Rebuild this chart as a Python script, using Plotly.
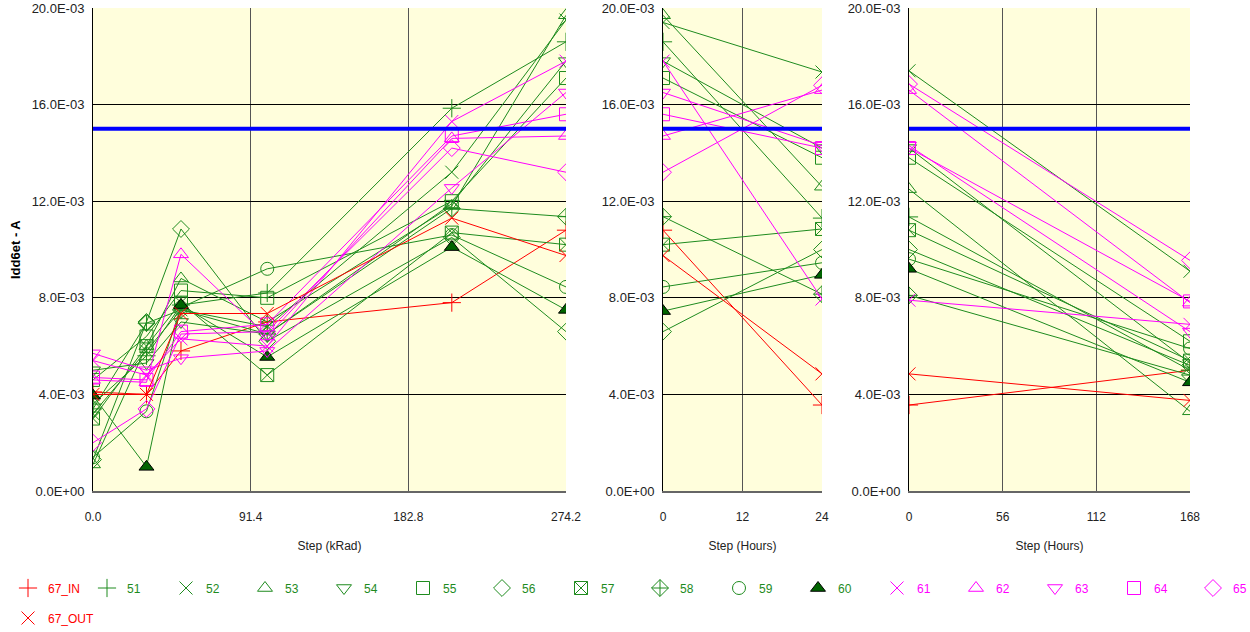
import plotly.graph_objects as go

# ---------------- data ----------------
SERIES = ["67_IN", "51", "52", "53", "54", "55", "56", "57", "58", "59", "60",
          "61", "62", "63", "64", "65", "67_OUT"]
COLORS = {"r": "#FF0000", "g": "#1E8B1E", "m": "#FF00FF"}
SERIES_COLOR = ["r", "g", "g", "g", "g", "g", "g", "g", "g", "g", "g",
                "m", "m", "m", "m", "m", "r"]
SYMBOLS = ["cross-thin-open", "cross-thin-open", "x-thin-open", "triangle-up-open",
           "triangle-down-open", "square-open", "diamond-open", "square-x-open",
           "diamond-cross-open", "circle-open", "triangle-up",
           "x-thin-open", "triangle-up-open", "triangle-down-open", "square-open",
           "diamond-open", "x-thin-open"]

DOSE_STEPS = [0, 31, 51, 101, 208, 274.2]          # kRad
ANNEAL1_STEPS = [0, 24]                            # hours
ANNEAL2_STEPS = [0, 168]                           # hours

# Idd6et in mA, one row per series (same order as SERIES)
DOSE_MA = [
    [4.1, 4.0, 5.8, 7.0, 7.8, 10.8],      # 67_IN
    [3.6, 5.6, 7.7, 8.2, 15.85, 18.6],    # 51
    [3.2, 5.8, 7.5, 6.8, 13.2, 19.5],     # 52
    [1.1, 6.0, 8.8, 7.0, 11.8, 19.7],     # 53
    [5.0, 5.3, 7.0, 6.5, 11.9, 17.8],     # 54
    [4.6, 6.4, 8.3, 8.0, 12.0, 17.1],     # 55
    [1.3, 7.0, 10.85, 6.2, 10.5, 6.6],    # 56
    [3.0, 6.0, 7.8, 4.8, 10.7, 10.2],     # 57
    [3.4, 6.95, 7.5, 6.5, 11.7, 11.36],   # 58
    [1.4, 3.3, 7.6, 9.2, 10.6, 8.45],     # 59
    [3.95, 1.0, 7.7, 5.55, 10.1, 7.5],    # 60
    [5.4, 4.8, 6.3, 6.0, 15.3, 17.8],     # 61
    [4.6, 4.5, 9.8, 6.4, 14.6, 14.7],     # 62
    [5.7, 5.0, 5.5, 5.8, 12.55, 16.5],    # 63
    [4.7, 4.6, 6.6, 6.9, 14.7, 15.6],     # 64
    [2.0, 3.4, 6.5, 6.6, 14.2, 13.2],     # 65
    [4.0, 4.0, 7.35, 7.35, 11.3, 9.75],   # 67_OUT
]
ANNEAL1_MA = [
    [10.8, 3.56], [18.6, 11.3], [19.4, 17.35], [19.7, 12.6], [17.8, 14.2],
    [17.1, 13.8], [6.6, 10.0], [10.2, 10.85], [11.36, 8.15], [8.45, 9.45],
    [7.45, 8.95], [17.8, 7.95], [14.7, 16.6], [16.5, 14.3], [15.6, 14.2],
    [13.2, 16.8], [9.75, 4.85],
]
ANNEAL2_MA = [
    [3.56, 5.0], [11.35, 5.0], [17.4, 9.1], [12.5, 3.3], [14.2, 5.3],
    [13.8, 6.2], [10.0, 5.2], [10.8, 5.4], [8.1, 4.8], [9.6, 5.9],
    [9.2, 4.5], [7.9, 6.9], [16.6, 7.8], [14.3, 6.6], [14.2, 7.85],
    [16.85, 9.55], [4.85, 3.75],
]
LIMIT_MA = 15.0

Y_TICKS_MA = [0, 4, 8, 12, 16, 20]
Y_TICKTEXT = ["0.0E+00", "4.0E-03", "8.0E-03", "12.0E-03", "16.0E-03", "20.0E-03"]
X1_TICKS = [0, 91.4, 182.8, 274.2]
X1_TICKTEXT = ["0.0", "91.4", "182.8", "274.2"]
X2_TICKS = [0, 12, 24]
X3_TICKS = [0, 56, 112, 168]

# ---------------- figure ----------------
FONT = "Liberation Sans, Arial, sans-serif"
fig = go.Figure()

panels = [("x", "y", DOSE_STEPS, DOSE_MA),
          ("x2", "y2", ANNEAL1_STEPS, ANNEAL1_MA),
          ("x3", "y3", ANNEAL2_STEPS, ANNEAL2_MA)]

def marker_for(i):
    c = COLORS[SERIES_COLOR[i]]
    filled = SYMBOLS[i] == "triangle-up"
    return dict(symbol=SYMBOLS[i], size=13,
                color="#006400" if filled else c,
                line=dict(color="black" if filled else c, width=1))

for xa, ya, xs, table in panels:
    for i, name in enumerate(SERIES):
        c = COLORS[SERIES_COLOR[i]]
        fig.add_trace(go.Scatter(
            x=xs, y=[v * 1e-3 for v in table[i]], xaxis=xa, yaxis=ya,
            mode="lines+markers", name=name, legendgroup=name, showlegend=False,
            line=dict(color=c, width=1), marker=marker_for(i), hoverinfo="skip"))

PLOT_L, PLOT_R, PLOT_T, PLOT_B = 93, 1190, 8, 491   # target screen pixels
L, T, R, B = PLOT_L, PLOT_T, 1250 - PLOT_R, 632 - PLOT_B
W = PLOT_R - PLOT_L
H = PLOT_B - PLOT_T

def px_x(p):
    return (p - PLOT_L) / W

def px_y(p):
    return (PLOT_B - p) / H

# legend-only entries, one small legend each so they sit on a fixed grid
legend_layout = {}
STEP = 79.0
for i, name in enumerate(SERIES):
    c = COLORS[SERIES_COLOR[i]]
    key = "legend" if i == 0 else f"legend{i + 1}"
    if i < 16:
        cx, cy = 29 + STEP * i, 588
    else:
        cx, cy = 29, 618
    fig.add_trace(go.Scatter(
        x=[None], y=[None], mode="markers", legendgroup=name, legend=key,
        name=f"<span style='color:{c}'>{name}</span>", marker=marker_for(i)))
    legend_layout[key] = dict(x=px_x(cx - 21), y=px_y(cy), xanchor="left", yanchor="middle",
                              orientation="h", font=dict(size=12, family=FONT),
                              bgcolor="rgba(0,0,0,0)", borderwidth=0)

# limit line
for xa, ya, xs in [("x", "y", DOSE_STEPS), ("x2", "y2", ANNEAL1_STEPS), ("x3", "y3", ANNEAL2_STEPS)]:
    fig.add_shape(type="line", xref=xa, yref=ya, x0=xs[0], x1=xs[-1],
                  y0=LIMIT_MA * 1e-3, y1=LIMIT_MA * 1e-3,
                  line=dict(color="#0000FF", width=4), layer="above")

def dom(a, b):
    return [px_x(a), px_x(b)]

yaxis_common = dict(range=[0, 0.020], tickvals=[v * 1e-3 for v in Y_TICKS_MA],
                    ticktext=Y_TICKTEXT, showgrid=True, gridcolor="#000000",
                    gridwidth=1, showline=True, linecolor="#000000", linewidth=1,
                    zeroline=False, ticks="outside", ticklen=5, tickcolor="rgba(0,0,0,0)",
                    tickfont=dict(size=13, color="#222"), fixedrange=True)
xaxis_common = dict(showgrid=True, gridcolor="#555555", gridwidth=1, showline=True,
                    linecolor="#666666", linewidth=2, zeroline=False,
                    ticks="outside", ticklen=14, tickcolor="rgba(0,0,0,0)",
                    tickfont=dict(size=12, color="#222"), fixedrange=True,
                    title_font=dict(size=12, color="#222"), title_standoff=18)

fig.update_layout(
    width=1250, height=632,
    margin=dict(l=L, r=R, t=T, b=B, autoexpand=False),
    paper_bgcolor="white", plot_bgcolor="#FFFEDC",
    font=dict(family=FONT, size=12, color="#222"),
    xaxis=dict(domain=dom(93, 566), range=[0, 274.2], tickvals=X1_TICKS,
               ticktext=X1_TICKTEXT, title_text="Step (kRad)", anchor="y", **xaxis_common),
    xaxis2=dict(domain=dom(663, 822), range=[0, 24], tickvals=X2_TICKS,
                title_text="Step (Hours)", anchor="y2", **xaxis_common),
    xaxis3=dict(domain=dom(909, 1190), range=[0, 168], tickvals=X3_TICKS,
                title_text="Step (Hours)", anchor="y3", **xaxis_common),
    yaxis=dict(anchor="x", **yaxis_common),
    yaxis2=dict(anchor="x2", **yaxis_common),
    yaxis3=dict(anchor="x3", **yaxis_common),
    annotations=[dict(text="<b>Idd6et - A</b>", xref="paper", yref="paper",
                      x=px_x(15), y=px_y(250), xanchor="center", yanchor="middle",
                      textangle=-90, showarrow=False,
                      font=dict(size=13, color="#000", family=FONT))],
    showlegend=True,
    **legend_layout,
)

# remove the browser's default page margin so the figure sits at the window origin
fig.write_html("out.html", config={"displayModeBar": False},
               post_script="document.body.style.margin='0px';")
